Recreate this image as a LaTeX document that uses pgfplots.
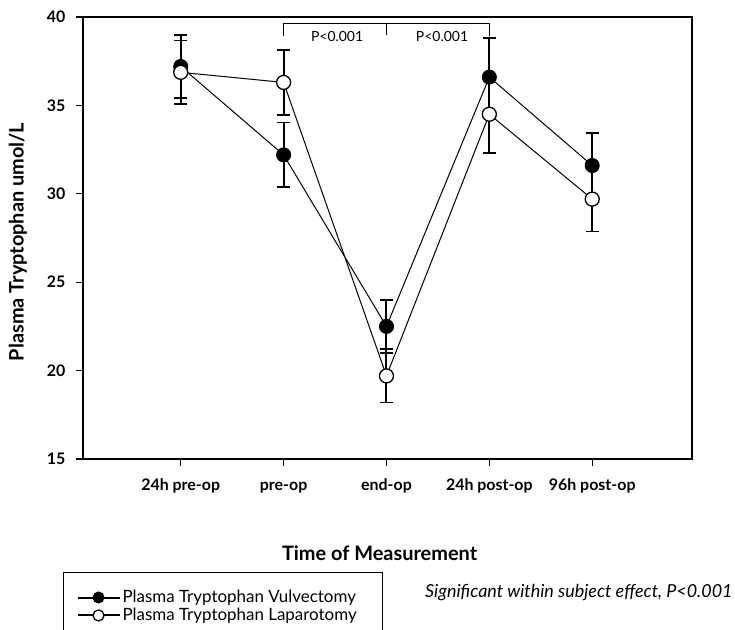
\documentclass[border=0pt]{standalone}
\usepackage{fontspec}
\setmainfont{Lato}
\usepackage{pgfplots}
\pgfplotsset{compat=1.18}
\begin{document}
\begin{tikzpicture}
\begin{axis}[
  scale only axis, width=609bp, height=442bp,
  xmin=0.05, xmax=5.97, ymin=15, ymax=40,
  axis line style={line width=1.6bp},
  xtick={1,2,3,4,5},
  xticklabels={24h pre-op, pre-op, end-op, 24h post-op, 96h post-op},
  ytick={15,20,25,30,35,40},
  tick align=outside, xtick pos=bottom, ytick pos=left,
  major tick length=7bp,
  tick style={line width=1.4bp, black},
  /pgf/number format/assume math mode=true,
  ticklabel style={font=\bfseries\fontsize{16}{18}\selectfont},
  xticklabel style={text height=12bp, text depth=4bp, yshift=-9bp},
  yticklabel style={xshift=-7bp},
  xlabel={Time of Measurement},
  ylabel={Plasma Tryptophan umol/L},
  label style={font=\bfseries\fontsize{20}{22}\selectfont},
  xlabel style={at={(axis description cs:0.487,-0.2127)}, anchor=center},
  ylabel style={at={(axis description cs:-0.1067,0.491)}, anchor=center},
  legend style={at={(-0.0328,-0.2557)}, anchor=north west, draw=black, line width=1bp,
    font=\fontsize{17}{19}\selectfont, inner xsep=13bp, inner ysep=16bp, row sep=0bp},
  legend cell align=left,
  legend image code/.code={\draw[mark repeat=2, mark phase=2, line width=2bp, mark size=5.5bp] plot coordinates {(0bp,0bp) (21bp,0bp) (42bp,0bp)};},
  clip=false,
]
\addplot[black, line width=1bp, mark=*, mark size=7bp, mark options={solid, fill=black, line width=1bp},
  error bars/.cd, y dir=both, y explicit,
  error bar style={line width=2bp, black},
  error mark options={rotate=90, mark size=6.5bp, line width=1.8bp, black}]
  coordinates {
  (1,37.2) +- (0,1.8)
  (2,32.2) +- (0,1.83)
  (3,22.5) +- (0,1.5)
  (4,36.6) +- (0,2.2)
  (5,31.6) +- (0,1.82)
  };
\addlegendentry{Plasma Tryptophan Vulvectomy\kern12bp\rule{0pt}{1pt}}
\addplot[black, line width=1bp, mark=*, mark size=7bp, mark options={solid, fill=white, draw=black, line width=1.3bp},
  error bars/.cd, y dir=both, y explicit,
  error bar style={line width=2bp, black},
  error mark options={rotate=90, mark size=6.5bp, line width=1.8bp, black}]
  coordinates {
  (1,36.87) +- (0,1.8)
  (2,36.3) +- (0,1.85)
  (3,19.7) +- (0,1.5)
  (4,34.5) +- (0,2.2)
  (5,29.7) +- (0,1.83)
  };
\addlegendentry{Plasma Tryptophan Laparotomy}
\draw[line width=1.5bp] (axis cs:2,38.94) -- (axis cs:2,39.62) -- (axis cs:4,39.62) -- (axis cs:4,38.94);
\draw[line width=1.5bp] (axis cs:3,39.62) -- (axis cs:3,39.0);
\node[font=\fontsize{14}{14}\selectfont] at (axis cs:2.52,38.9) {P<0.001};
\node[font=\fontsize{14}{14}\selectfont] at (axis cs:3.54,38.9) {P<0.001};
\end{axis}
\node[anchor=west, inner sep=0pt, font=\itshape\fontsize{18}{18}\selectfont] at (342bp,-134bp) {Significant within subject effect, P<0.001};
\pgfresetboundingbox
\useasboundingbox (-83bp,-171bp) rectangle (652bp,459bp);
\end{tikzpicture}
\end{document}
